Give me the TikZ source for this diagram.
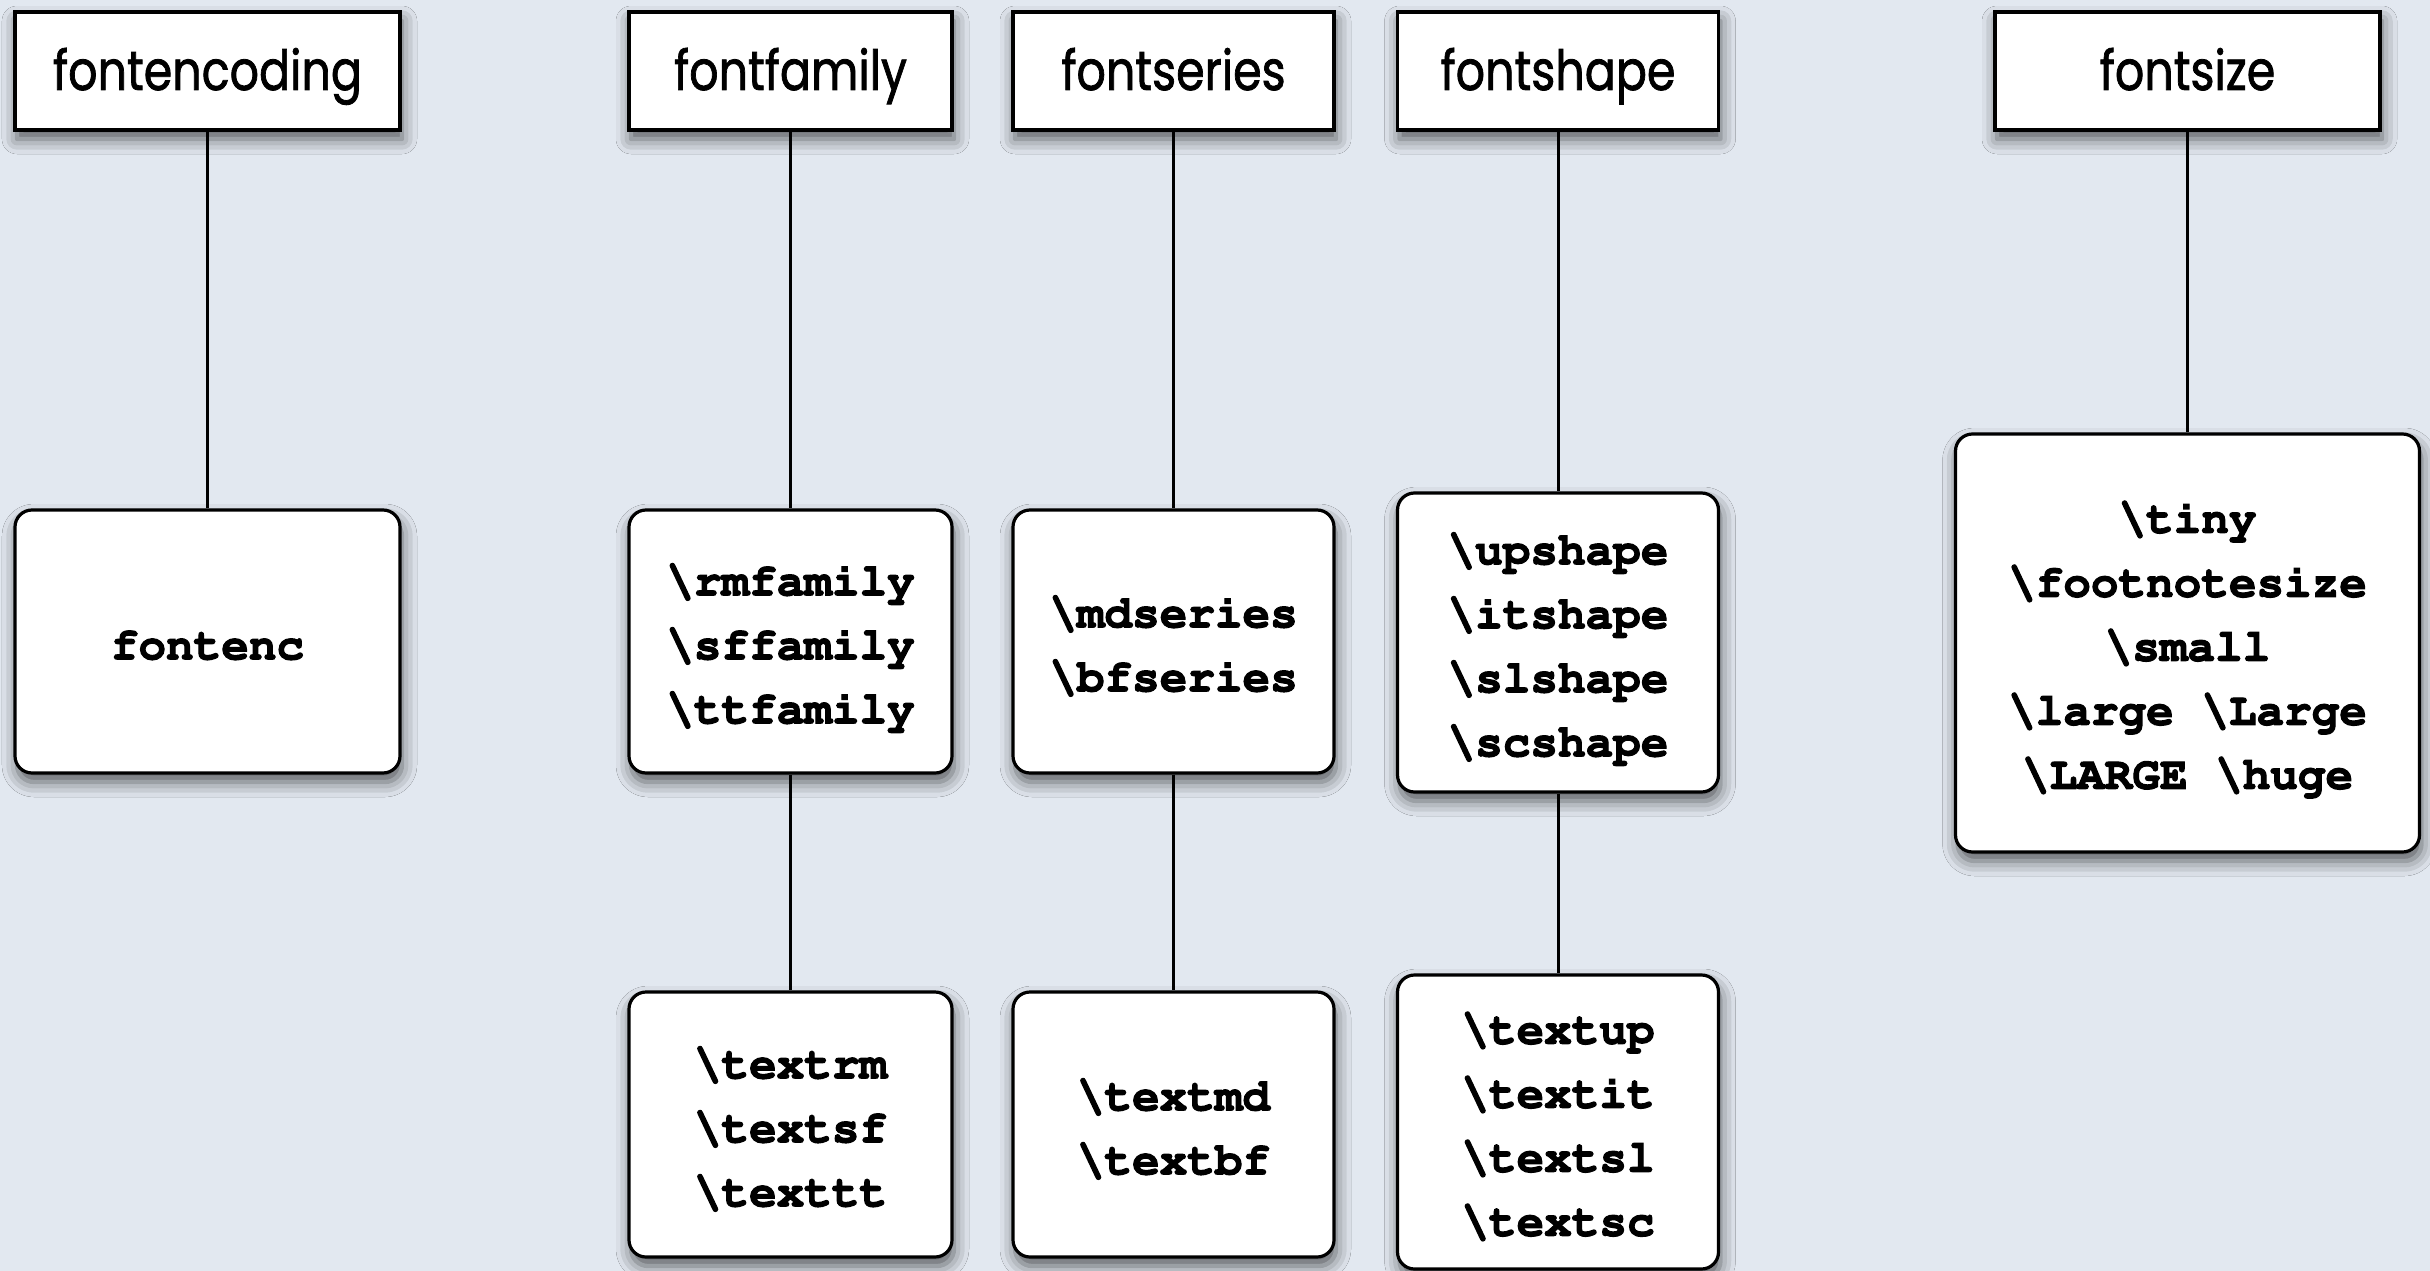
\documentclass[tikz,border=0pt]{standalone}
\usepackage[T1]{fontenc}
\usepackage{fontspec}
\usepackage{graphicx}
\newfontfamily\labelfont{Poppins}
\usetikzlibrary{shadows.blur}
\definecolor{paper}{RGB}{226,232,240}
\newcommand{\bs}{\textbackslash}
\newcommand{\cour}{\fontencoding{T1}\fontfamily{pcr}\fontseries{b}\fontshape{n}\fontsize{46}{64}\selectfont}
\newcommand{\cmdlines}[1]{\raisebox{0pt}[\dimexpr\height+10pt\relax][\depth]{\special{pdf:literal q 2 Tr 1.1 w}\begin{tabular}{@{}c@{}}#1\end{tabular}\special{pdf:literal Q}}}
\newcommand{\headtext}[1]{\scalebox{1}[1.2]{\special{pdf:literal q 2 Tr 0.7 w}#1\special{pdf:literal Q}}}
\tikzset{
  shade/.style={blur shadow={shadow xshift=2pt, shadow yshift=-9pt, shadow blur radius=15pt, shadow opacity=62}},
  headbox/.style={draw=black, fill=white, line width=3.2pt, shade, inner sep=0pt,
    minimum height=118pt, text height=44pt, text depth=6pt,
    font=\labelfont\fontsize{46}{56}\selectfont},
  cmdbox/.style={draw=black, fill=white, line width=3.2pt, rounded corners=17pt, shade,
    inner sep=0pt, font=\cour},
  link/.style={draw=black, line width=3pt}
}
\begin{document}
\begin{tikzpicture}[x=1pt, y=-1pt]
\useasboundingbox (0,0) rectangle (2430,1271);
\fill[paper] (0,0) rectangle (2430,1271);

% header boxes
\node[headbox, minimum width=385pt] (enc) at (207.5,71) {\headtext{fontencoding}};
\node[headbox, minimum width=323pt] (fam) at (790.5,71) {\headtext{fontfamily}};
\node[headbox, minimum width=321pt] (ser) at (1173.5,71) {\headtext{fontseries}};
\node[headbox, minimum width=321pt] (shp) at (1558,71) {\headtext{fontshape}};
\node[headbox, minimum width=385pt] (siz) at (2187.5,71) {\headtext{fontsize}};

% command boxes (row 1)
\node[cmdbox, minimum width=385pt, minimum height=263pt] (fontenc) at (207.5,641.5)
  {\cmdlines{fontenc}};
\node[cmdbox, minimum width=323pt, minimum height=263pt] (famcmd) at (790.5,641.5)
  {\cmdlines{\bs rmfamily\\\bs sffamily\\\bs ttfamily}};
\node[cmdbox, minimum width=321pt, minimum height=263pt] (sercmd) at (1173.5,641.5)
  {\cmdlines{\bs mdseries\\\bs bfseries}};
\node[cmdbox, minimum width=321pt, minimum height=299pt] (shpcmd) at (1558,642.5)
  {\cmdlines{\bs upshape\\\bs itshape\\\bs slshape\\\bs scshape}};
\node[cmdbox, minimum width=464pt, minimum height=418pt] (sizcmd) at (2187.5,643)
  {\cmdlines{\bs tiny\\\bs footnotesize\\\bs small\\\bs large \bs Large\\\bs LARGE \bs huge}};

% command boxes (row 2)
\node[cmdbox, minimum width=323pt, minimum height=265pt] (famtxt) at (790.5,1124.5)
  {\cmdlines{\bs textrm\\\bs textsf\\\bs texttt}};
\node[cmdbox, minimum width=321pt, minimum height=265pt] (sertxt) at (1173.5,1124.5)
  {\cmdlines{\bs textmd\\\bs textbf}};
\node[cmdbox, minimum width=321pt, minimum height=294pt] (shptxt) at (1558,1122)
  {\cmdlines{\bs textup\\\bs textit\\\bs textsl\\\bs textsc}};

% connectors
\draw[link] (enc.south) -- (fontenc.north);
\draw[link] (fam.south) -- (famcmd.north);
\draw[link] (ser.south) -- (sercmd.north);
\draw[link] (shp.south) -- (shpcmd.north);
\draw[link] (siz.south) -- (sizcmd.north);
\draw[link] (famcmd.south) -- (famtxt.north);
\draw[link] (sercmd.south) -- (sertxt.north);
\draw[link] (shpcmd.south) -- (shptxt.north);
\end{tikzpicture}
\end{document}
